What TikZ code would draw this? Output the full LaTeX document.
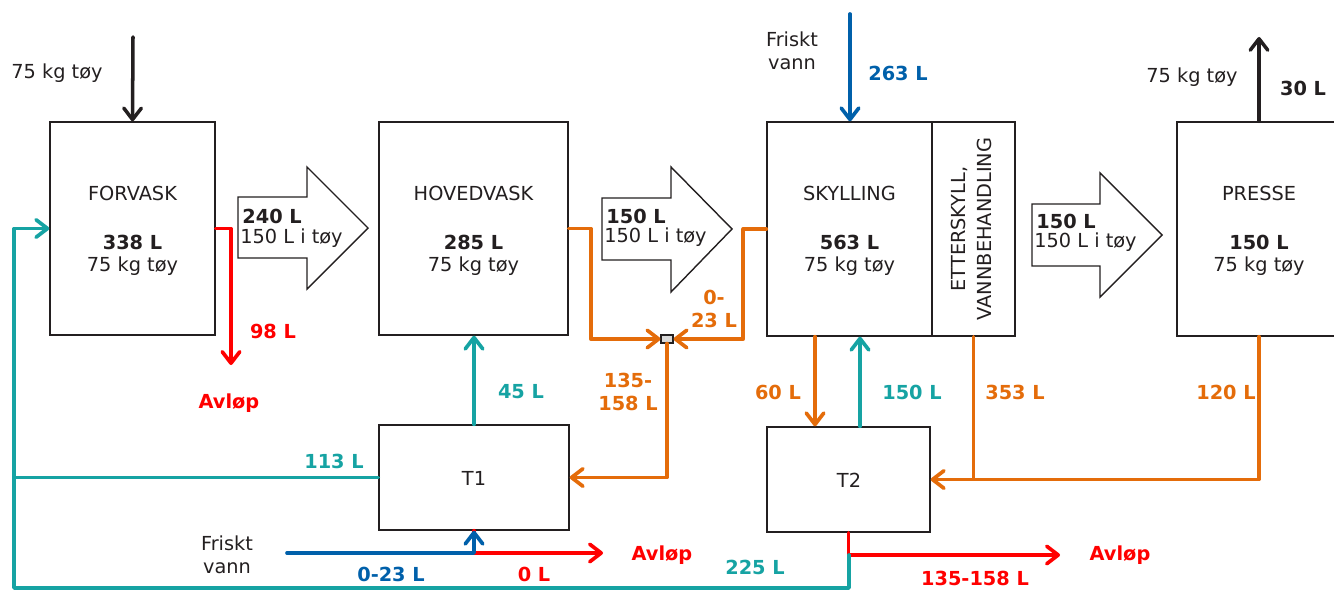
\documentclass[tikz,border=0pt]{standalone}
\usepackage{fontspec}
\setmainfont{DejaVu Sans}
\usetikzlibrary{arrows.meta}
\definecolor{tealc}{RGB}{22,163,163}
\definecolor{orgc}{RGB}{228,108,10}
\definecolor{bluc}{RGB}{0,96,170}
\definecolor{redc}{RGB}{255,0,0}
\definecolor{txtc}{RGB}{35,31,32}
\tikzset{
  box/.style={draw=txtc, line width=0.8pt, inner sep=0pt, fill=white},
  lbl/.style={text=txtc, font=\fontsize{11}{13}\selectfont, inner sep=0pt, align=center},
  blbl/.style={lbl, font=\fontsize{11}{13}\selectfont\bfseries},
  tip/.style={-{Straight Barb[length=6.5pt,width=10pt,line cap=round,line join=round]}},
  flow/.style={line width=2.1pt, line cap=round, line join=round},
  tealf/.style={flow, draw=tealc},
  orgf/.style={flow, draw=orgc},
  bluf/.style={flow, draw=bluc},
  redf/.style={flow, draw=redc},
  blkf/.style={flow, draw=txtc, line width=2pt},
  bigarrow/.style={draw=txtc, line width=0.8pt, fill=white, line join=miter},
}
\begin{document}
\begin{tikzpicture}[x=0.02cm, y=-0.02cm]
\path[use as bounding box] (0,0) rectangle (1334,591);
\clip (0,0) rectangle (1334,591);

% boxes
\node[box, minimum width=3.3cm, minimum height=4.26cm] (fv) at (132.5,228.5) {};
\node[box, minimum width=3.78cm, minimum height=4.26cm] (hv) at (473.5,228.5) {};
\node[box, minimum width=3.3cm, minimum height=4.28cm] (sk) at (849.5,229) {};
\node[box, minimum width=1.66cm, minimum height=4.28cm] (et) at (973.5,229) {};
\node[box, minimum width=3.28cm, minimum height=4.28cm] (pr) at (1259,229) {};
\node[box, minimum width=3.8cm, minimum height=2.1cm] (T1) at (474,477.5) {};
\node[box, minimum width=3.26cm, minimum height=2.1cm] (T2) at (848.5,479.5) {};
\node[box, fill=black!15, line width=0.6pt, minimum width=0.24cm, minimum height=0.16cm] (jn) at (667,339) {};

% box texts
\node[lbl] (fvt) at (132.5,193) {FORVASK};
\node[blbl] (fvv) at (132.5,242) {338 L};
\node[lbl] (fvk) at (132.5,266) {75 kg tøy};
\node[lbl] (hvt) at (473.5,193) {HOVEDVASK};
\node[blbl] (hvv) at (473.5,242) {285 L};
\node[lbl] (hvk) at (473.5,266) {75 kg tøy};
\node[lbl] (skt) at (849.5,193) {SKYLLING};
\node[blbl] (skv) at (849.5,242) {563 L};
\node[lbl] (skk) at (849.5,266) {75 kg tøy};
\node[lbl] (prt) at (1259,193) {PRESSE};
\node[blbl] (prv) at (1259,242) {150 L};
\node[lbl] (prk) at (1259,266) {75 kg tøy};
\node[lbl, rotate=90, font=\fontsize{11}{15}\selectfont] (ett) at (971.5,229) {ETTERSKYLL,\\VANNBEHANDLING};
\node[lbl] (t1t) at (474,478) {T1};
\node[lbl] (t2t) at (849,480) {T2};

% big arrows
\draw[bigarrow] (238,197) -- (307,197) -- (307,167) -- (368,228) -- (307,289) -- (307,258) -- (238,258) -- cycle;
\draw[bigarrow] (602,198) -- (671,198) -- (671,167) -- (732,229) -- (671,292) -- (671,260) -- (602,260) -- cycle;
\draw[bigarrow] (1032,204) -- (1100,204) -- (1100,173) -- (1162,235) -- (1100,297) -- (1100,266) -- (1032,266) -- cycle;
\node[blbl, anchor=west] (a1v) at (242,216) {240 L};
\node[lbl, anchor=west] (a1t) at (240,238) {150 L i tøy};
\node[blbl, anchor=west] (a2v) at (606,216) {150 L};
\node[lbl, anchor=west] (a2t) at (604,237) {150 L i tøy};
\node[blbl, anchor=west] (a3v) at (1036,221) {150 L};
\node[lbl, anchor=west] (a3t) at (1034,242) {150 L i tøy};

% free-end coordinates
\coordinate (fin) at (133,37);
\coordinate (out) at (1259,37);
\coordinate (r98) at (231,365);
\coordinate (lc) at (14,400);
\coordinate (lb) at (14,588);
\coordinate (t2j) at (849,555);
\coordinate (fw1) at (287,553);
\coordinate (av1) at (603,553);
\coordinate (fw2) at (850,14);
\coordinate (av2) at (1060,555);
\coordinate (x60) at (815,400);
\coordinate (x150) at (860,400);

% black flows
\draw[blkf, tip] (fin) -- (fv.north);
\draw[blkf, tip] (pr.north) -- (out);

% red flows
\draw[redf, tip] (fv.east) -| (r98);
\draw[redf, tip] (T1.south) |- (av1);
\draw[redf, tip] (T2.south) |- (av2);

% blue flows
\draw[bluf, tip] (fw1) -| (T1.south);
\draw[bluf, tip] (fw2) -- (fw2 |- sk.north);

% orange flows
\draw[orgf, tip] (hv.east) -- ++(22,0) |- (jn.west);
\draw[orgf, tip] (sk.west) -- ++(-23,0) |- (jn.east);
\draw[orgf, tip] (jn.south) |- (T1.east);
\draw[orgf, tip] (sk.south -| x60) -- (T2.north -| x60);
\draw[orgf, tip] (et.south) |- (T2.east);
\draw[orgf] (pr.south) |- (et.south |- T2.east);

% teal flows
\draw[tealf, tip] (T1.north) -- (T1.north |- hv.south);
\draw[tealf, tip] (T1.west) -| (lc) |- (fv.west);
\draw[tealf] (T1.west -| lb) -- (lb) -| (t2j);
\draw[tealf, tip] (T2.north -| x150) -- (sk.south -| x150);

% labels
\node[lbl] (l1) at (57,73) {75 kg tøy};
\node[blbl, text=redc] (l98) at (273,331) {98 L};
\node[blbl, text=redc] (lav1) at (229,403) {Avløp};
\node[blbl, text=orgc] (l023) at (714,309) {0-\\23 L};
\node[blbl, text=orgc] (l135) at (628,392) {135-\\158 L};
\node[blbl, text=tealc] (l45) at (521,392) {45 L};
\node[blbl, text=tealc] (l113) at (334,461) {113 L};
\node[lbl] (lfw1) at (227,555) {Friskt\\vann};
\node[blbl, text=bluc] (l023b) at (391,574) {0-23 L};
\node[blbl, text=redc] (l0) at (534,574) {0 L};
\node[blbl, text=redc] (lav2) at (662,555) {Avløp};
\node[blbl, text=tealc] (l225) at (755,567) {225 L};
\node[lbl] (lfw2) at (792,51) {Friskt\\vann};
\node[blbl, text=bluc] (l263) at (898,73) {263 L};
\node[lbl] (l75r) at (1192,77) {75 kg tøy};
\node[blbl] (l30) at (1303,88) {30 L};
\node[blbl, text=orgc] (l60) at (778,392) {60 L};
\node[blbl, text=tealc] (l150) at (912,392) {150 L};
\node[blbl, text=orgc] (l353) at (1015,392) {353 L};
\node[blbl, text=orgc] (l120) at (1226,392) {120 L};
\node[blbl, text=redc] (lav3) at (1120,555) {Avløp};
\node[blbl, text=redc] (l135r) at (975,578) {135-158 L};
\end{tikzpicture}
\end{document}
